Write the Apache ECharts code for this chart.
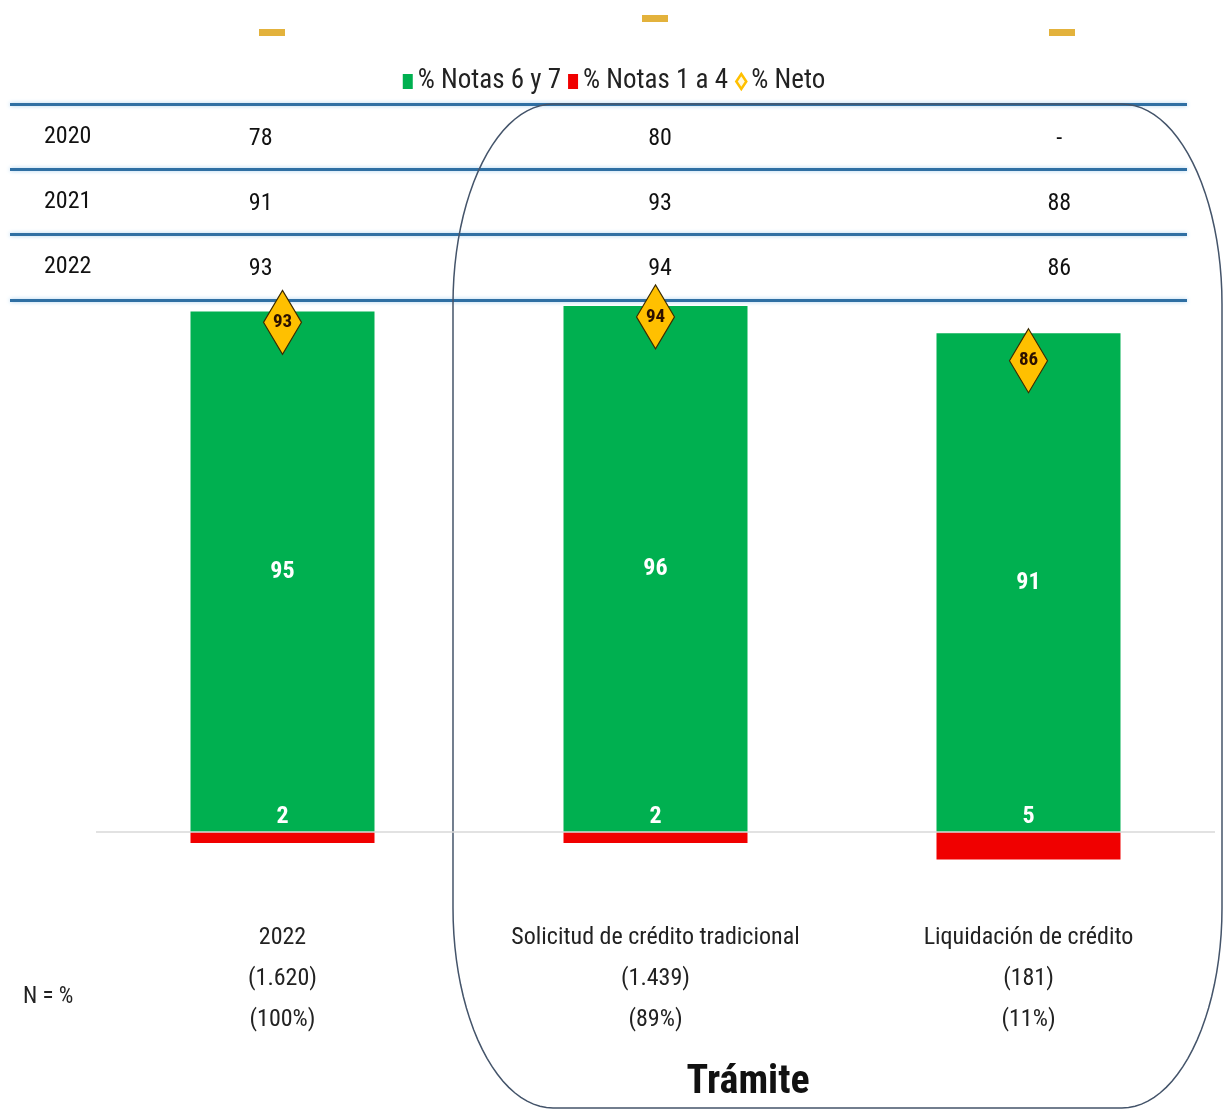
<!DOCTYPE html>
<html>
<head>
<meta charset="utf-8">
<script src="https://cdn.jsdelivr.net/npm/echarts@6/dist/echarts.min.js"></script>
<style>
  html, body { margin: 0; padding: 0; background: #fff; }
  #chart { width: 1228px; height: 1110px; }
</style>
</head>
<body>
<div id="chart"></div>
<script>
// Satisfacción por trámite: % notas 6-7, % notas 1-4 y % neto
const categories = ['2022', 'Solicitud de crédito tradicional', 'Liquidación de crédito'];
const sampleN = [1620, 1439, 181];
const sampleShare = [100, 89, 11];
const notas67 = [95, 96, 91];
const notas14 = [2, 2, 5];
const neto = [93, 94, 86];

// Histórico del % neto por año (null = sin dato)
const years = ['2020', '2021', '2022'];
const netoHistory = [
  [78, 80, null],
  [91, 93, 88],
  [93, 94, 86]
];

const FONT = '"Liberation Sans Narrow", "Roboto Condensed", Roboto, sans-serif';
const GREEN = '#00b050';
const RED = '#f00000';
const GOLD = '#ffc000';

function thousands(n) {
  return String(n).replace(/\B(?=(\d{3})+(?!\d))/g, '.');
}

// Outline of the "Trámite" group: rectangle with elliptical corners
function roundedOutline(x0, y0, x1, y1, rx, ry) {
  const pts = [];
  const steps = 24;
  const corner = (cx, cy, a0, a1) => {
    for (let i = 0; i <= steps; i++) {
      const a = a0 + (a1 - a0) * i / steps;
      pts.push([cx + rx * Math.cos(a), cy + ry * Math.sin(a)]);
    }
  };
  corner(x0 + rx, y0 + ry, Math.PI, 1.5 * Math.PI);
  corner(x1 - rx, y0 + ry, 1.5 * Math.PI, 2 * Math.PI);
  corner(x1 - rx, y1 - ry, 0, 0.5 * Math.PI);
  corner(x0 + rx, y1 - ry, 0.5 * Math.PI, Math.PI);
  pts.push(pts[0]);
  return pts;
}

const tableData = [];
netoHistory.forEach((row, r) => row.forEach((v, c) => tableData.push([c, r])));

const chart = echarts.init(document.getElementById('chart'), null, { renderer: 'canvas' });

chart.setOption({
  animation: false,
  backgroundColor: '#ffffff',
  textStyle: { fontFamily: FONT },
  legend: {
    top: 63,
    left: 'center',
    itemWidth: 10,
    itemHeight: 15,
    itemGap: 7,
    textStyle: { fontSize: 27, color: '#222', fontFamily: FONT },
    data: [
      { name: '% Notas 6 y 7', icon: 'rect' },
      { name: '% Notas 1 a 4', icon: 'rect' },
      { name: '% Neto', icon: 'diamond', itemStyle: { color: '#fff8e0', borderColor: GOLD, borderWidth: 2.5 } }
    ]
  },
  grid: [
    { left: 96, right: 13, top: 284, height: 630.2, outerBoundsMode: 'none' },
    { left: 10, right: 41, top: 104, height: 196, outerBoundsMode: 'none' },
    { left: 61, right: -31, top: 104, height: 196, outerBoundsMode: 'none' }
  ],
  xAxis: [
    {
      gridIndex: 0,
      type: 'category',
      data: categories,
      axisLine: { onZero: false, show: false },
      axisTick: { show: false },
      axisLabel: {
        margin: 3,
        fontSize: 24,
        lineHeight: 41,
        color: '#222',
        fontFamily: FONT,
        interval: 0,
        formatter: (v, i) => `${v}\n(${thousands(sampleN[i])})\n(${sampleShare[i]}%)`
      }
    },
    { gridIndex: 1, type: 'value', min: 0, max: 1, show: false },
    { gridIndex: 2, type: 'category', data: categories, show: false }
  ],
  yAxis: [
    { gridIndex: 0, type: 'value', min: -15, max: 100, show: false },
    {
      gridIndex: 1,
      type: 'category',
      data: years,
      inverse: true,
      axisLine: { show: false },
      axisTick: { show: false },
      axisLabel: {
        inside: true,
        margin: 34,
        fontSize: 24,
        color: '#111',
        fontFamily: FONT,
        padding: [5, 0, 0, 0]
      },
      splitLine: {
        show: true,
        interval: 0,
        lineStyle: { color: '#2f6fa3', width: 3, shadowColor: '#a9d0ee', shadowBlur: 4 }
      }
    },
    { gridIndex: 2, type: 'category', data: years, inverse: true, show: false }
  ],
  series: [
    {
      name: '% Notas 6 y 7',
      type: 'bar',
      stack: 'total',
      barWidth: 184,
      itemStyle: { color: GREEN },
      label: {
        show: true,
        position: 'inside',
        color: '#fff',
        fontSize: 24,
        fontWeight: 'bold',
        fontFamily: FONT
      },
      markLine: {
        silent: true,
        symbol: 'none',
        label: { show: false },
        lineStyle: { color: '#d9d9d9', width: 1.5, type: 'solid' },
        data: [{ yAxis: 0 }]
      },
      data: notas67
    },
    {
      name: '% Notas 1 a 4',
      type: 'bar',
      stack: 'total',
      barWidth: 184,
      itemStyle: { color: RED },
      label: {
        show: true,
        position: 'top',
        distance: 3,
        color: '#fff',
        fontSize: 24,
        fontWeight: 'bold',
        fontFamily: FONT,
        formatter: p => Math.abs(p.value)
      },
      data: notas14.map(v => -v)
    },
    {
      name: '% Neto',
      type: 'scatter',
      symbol: 'diamond',
      symbolSize: [38, 64],
      z: 5,
      itemStyle: { color: GOLD, opacity: 1, borderColor: '#3a2a00', borderWidth: 1.2 },
      label: {
        show: true,
        position: 'inside',
        color: '#2b1000',
        fontSize: 19,
        fontWeight: 'bold',
        fontFamily: FONT
      },
      data: neto
    },
    {
      name: 'Histórico neto',
      type: 'scatter',
      xAxisIndex: 2,
      yAxisIndex: 2,
      symbolSize: 1,
      itemStyle: { color: '#ffffff', opacity: 1 },
      silent: true,
      label: {
        show: true,
        position: 'inside',
        offset: [0, 2],
        color: '#111',
        fontSize: 24,
        fontFamily: FONT,
        formatter: p => {
          const v = netoHistory[p.value[1]][p.value[0]];
          return v == null ? '-' : String(v);
        }
      },
      data: tableData
    }
  ],
  graphic: [
    {
      type: 'polyline',
      silent: true,
      z: 1,
      shape: { points: roundedOutline(453, 104, 1222, 1108, 100, 200) },
      style: { stroke: '#44546a', lineWidth: 1.5, fill: null }
    },
    { type: 'rect', shape: { x: 259, y: 29, width: 26, height: 7 }, style: { fill: '#e3b23c' } },
    { type: 'rect', shape: { x: 642, y: 15, width: 26, height: 7 }, style: { fill: '#e3b23c' } },
    { type: 'rect', shape: { x: 1049, y: 29, width: 26, height: 7 }, style: { fill: '#e3b23c' } },
    {
      type: 'text',
      left: 23,
      top: 986,
      style: { text: 'N = %', font: `23px ${FONT}`, fill: '#222' }
    },
    {
      type: 'text',
      x: 748,
      y: 1083,
      style: {
        text: 'Trámite',
        font: `bold 40px ${FONT}`,
        fill: '#111',
        textAlign: 'center',
        textVerticalAlign: 'middle'
      }
    }
  ]
});
</script>
</body>
</html>
